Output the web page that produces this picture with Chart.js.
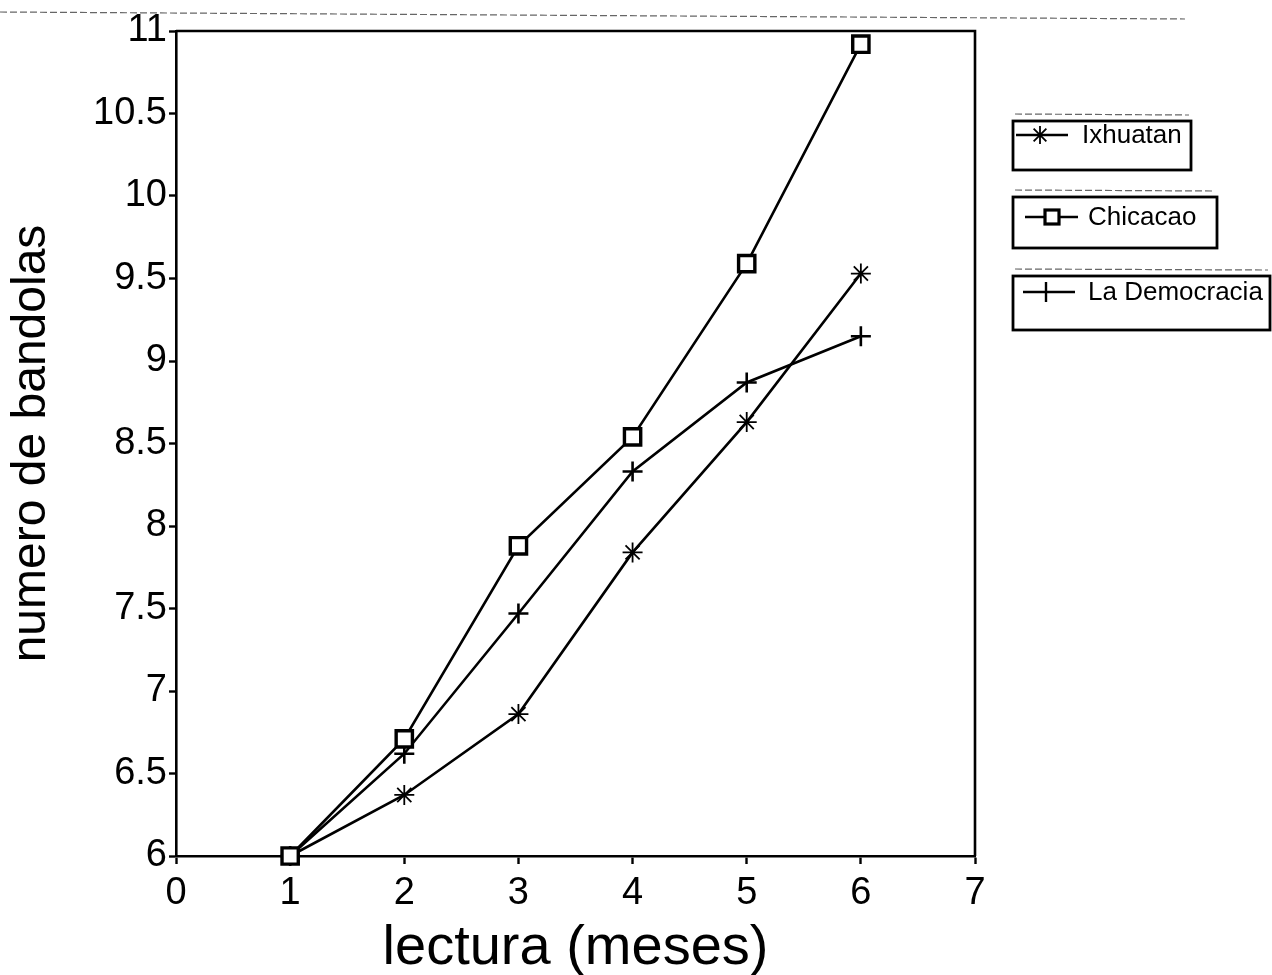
<!DOCTYPE html>
<html>
<head>
<meta charset="utf-8">
<script src="https://cdn.jsdelivr.net/npm/chart.js@4/dist/chart.umd.min.js"></script>
<style>
  html, body { margin: 0; padding: 0; background: #ffffff; }
  #wrap { width: 1272px; height: 975px; position: relative; }
</style>
</head>
<body>
<div id="wrap"><canvas id="c" width="1272" height="975"></canvas></div>
<script>
// ---- data ----
const months = [1, 2, 3, 4, 5, 6];
const ixhuatan = [6.0, 6.37, 6.86, 7.84, 8.63, 9.53];
const chicacao = [6.0, 6.71, 7.88, 8.54, 9.59, 10.92];
const laDemocracia = [6.0, 6.62, 7.47, 8.33, 8.87, 9.15];
const seriesNames = ['Ixhuatan', 'Chicacao', 'La Democracia'];
const xTicks = [0, 1, 2, 3, 4, 5, 6, 7];
const yTicks = [6, 6.5, 7, 7.5, 8, 8.5, 9, 9.5, 10, 10.5, 11];
const xTitle = 'lectura (meses)';
const yTitle = 'numero de bandolas';

const FONT = '"Liberation Sans", Arial, Helvetica, sans-serif';

function pts(vals) { return months.map((m, i) => ({ x: m, y: vals[i] })); }

const frame = {
  id: 'frame',
  afterDatasetsDraw(chart) {
    const { ctx, chartArea: a } = chart;
    ctx.save();
    ctx.strokeStyle = '#000';
    ctx.lineWidth = 2.6;
    ctx.beginPath();
    ctx.moveTo(a.left, a.top);
    ctx.lineTo(a.right, a.top);
    ctx.lineTo(a.right, a.bottom);
    ctx.stroke();
    ctx.restore();
  }
};

function drawMarker(ctx, style, x, y) {
  ctx.save();
  ctx.strokeStyle = '#000';
  if (style === 'star') {
    ctx.lineWidth = 1.8;
    const r = 9;
    ctx.beginPath();
    for (let k = 0; k < 4; k++) {
      const ang = k * Math.PI / 4;
      ctx.moveTo(x - r * Math.cos(ang), y - r * Math.sin(ang));
      ctx.lineTo(x + r * Math.cos(ang), y + r * Math.sin(ang));
    }
    ctx.stroke();
  } else if (style === 'rect') {
    ctx.lineWidth = 3.2;
    ctx.fillStyle = '#fff';
    ctx.fillRect(x - 7, y - 7, 14, 14);
    ctx.strokeRect(x - 7, y - 7, 14, 14);
  } else if (style === 'cross') {
    ctx.lineWidth = 2.4;
    ctx.beginPath();
    ctx.moveTo(x, y - 10); ctx.lineTo(x, y + 10);
    ctx.stroke();
  }
  ctx.restore();
}

const boxLegend = {
  id: 'boxLegend',
  afterDraw(chart) {
    const { ctx } = chart;
    const boxes = [
      { l: 1013, t: 121, r: 1191, b: 170, ly: 135, x0: 1016, x1: 1068, mx: 1040, tx: 1082 },
      { l: 1013, t: 197, r: 1217, b: 248, ly: 217, x0: 1025, x1: 1078, mx: 1052, tx: 1088 },
      { l: 1013, t: 276, r: 1270, b: 330, ly: 292, x0: 1023, x1: 1075, mx: 1046, tx: 1088 }
    ];
    ctx.save();
    // faint scan lines above the boxes and at the top of the page
    ctx.strokeStyle = '#666';
    ctx.lineWidth = 1.2;
    ctx.setLineDash([7, 3]);
    ctx.beginPath();
    ctx.moveTo(0, 12); ctx.lineTo(1185, 19);
    boxes.forEach(bx => { ctx.moveTo(bx.l + 2, bx.t - 7); ctx.lineTo(bx.r - 2, bx.t - 6); });
    ctx.stroke();
    ctx.setLineDash([]);
    chart.data.datasets.forEach((ds, i) => {
      const bx = boxes[i];
      ctx.strokeStyle = '#000';
      ctx.lineWidth = 2.8;
      ctx.strokeRect(bx.l, bx.t, bx.r - bx.l, bx.b - bx.t);
      ctx.lineWidth = 2.4;
      ctx.beginPath();
      ctx.moveTo(bx.x0, bx.ly); ctx.lineTo(bx.x1, bx.ly);
      ctx.stroke();
      drawMarker(ctx, ds.pointStyle, bx.mx, bx.ly);
      ctx.fillStyle = '#000';
      ctx.font = '26px ' + FONT;
      ctx.textBaseline = 'middle';
      ctx.textAlign = 'left';
      ctx.fillText(ds.label, bx.tx, bx.ly + 1);
    });
    ctx.restore();
  }
};

const common = {
  borderColor: '#000',
  borderWidth: 2.6,
  pointBorderColor: '#000',
  pointBackgroundColor: '#fff',
  tension: 0,
  clip: false,
  fill: false
};

new Chart(document.getElementById('c'), {
  type: 'line',
  data: {
    datasets: [
      Object.assign({}, common, { label: seriesNames[0], data: pts(ixhuatan), pointStyle: 'star', pointRadius: 10, pointBorderWidth: 1.8, order: 1 }),
      Object.assign({}, common, { label: seriesNames[1], data: pts(chicacao), pointStyle: 'rect', pointRadius: 11.5, pointBorderWidth: 3.4, order: 0 }),
      Object.assign({}, common, { label: seriesNames[2], data: pts(laDemocracia), pointStyle: 'cross', pointRadius: 10, pointBorderWidth: 2.6, order: 2 })
    ]
  },
  options: {
    responsive: false,
    devicePixelRatio: 1,
    animation: false,
    events: [],
    layout: { padding: { top: 31, right: 297, bottom: 0, left: 0 } },
    plugins: { legend: { display: false }, tooltip: { enabled: false } },
    scales: {
      x: {
        type: 'linear',
        min: 0, max: 7,
        afterBuildTicks(s) { s.ticks = xTicks.map(v => ({ value: v })); },
        afterFit(s) { s.height = 119; },
        ticks: { color: '#000', font: { family: FONT, size: 38, lineHeight: 1.2 }, padding: 7, maxRotation: 0, autoSkip: false, callback: v => String(v) },
        grid: { display: true, drawOnChartArea: false, drawTicks: true, tickLength: 8, tickWidth: 2.4, tickColor: '#000' },
        border: { display: true, color: '#000', width: 2.6 },
        title: { display: true, text: xTitle, color: '#000', font: { family: FONT, size: 56, lineHeight: 1 }, padding: { top: 0, bottom: -2 } }
      },
      y: {
        type: 'linear',
        min: 6, max: 11,
        afterBuildTicks(s) { s.ticks = yTicks.map(v => ({ value: v })); },
        afterFit(s) { s.width = 176; },
        ticks: { color: '#000', font: { family: FONT, size: 38, lineHeight: 1.2 }, padding: 2, autoSkip: false, callback: v => String(v) },
        grid: { display: true, drawOnChartArea: false, drawTicks: true, tickLength: 7, tickWidth: 2.4, tickColor: '#000' },
        border: { display: true, color: '#000', width: 2.6 },
        title: { display: true, text: yTitle, color: '#000', font: { family: FONT, size: 48, lineHeight: 1 }, padding: { top: 8, bottom: 0 } }
      }
    }
  },
  plugins: [frame, boxLegend]
});
</script>
</body>
</html>
